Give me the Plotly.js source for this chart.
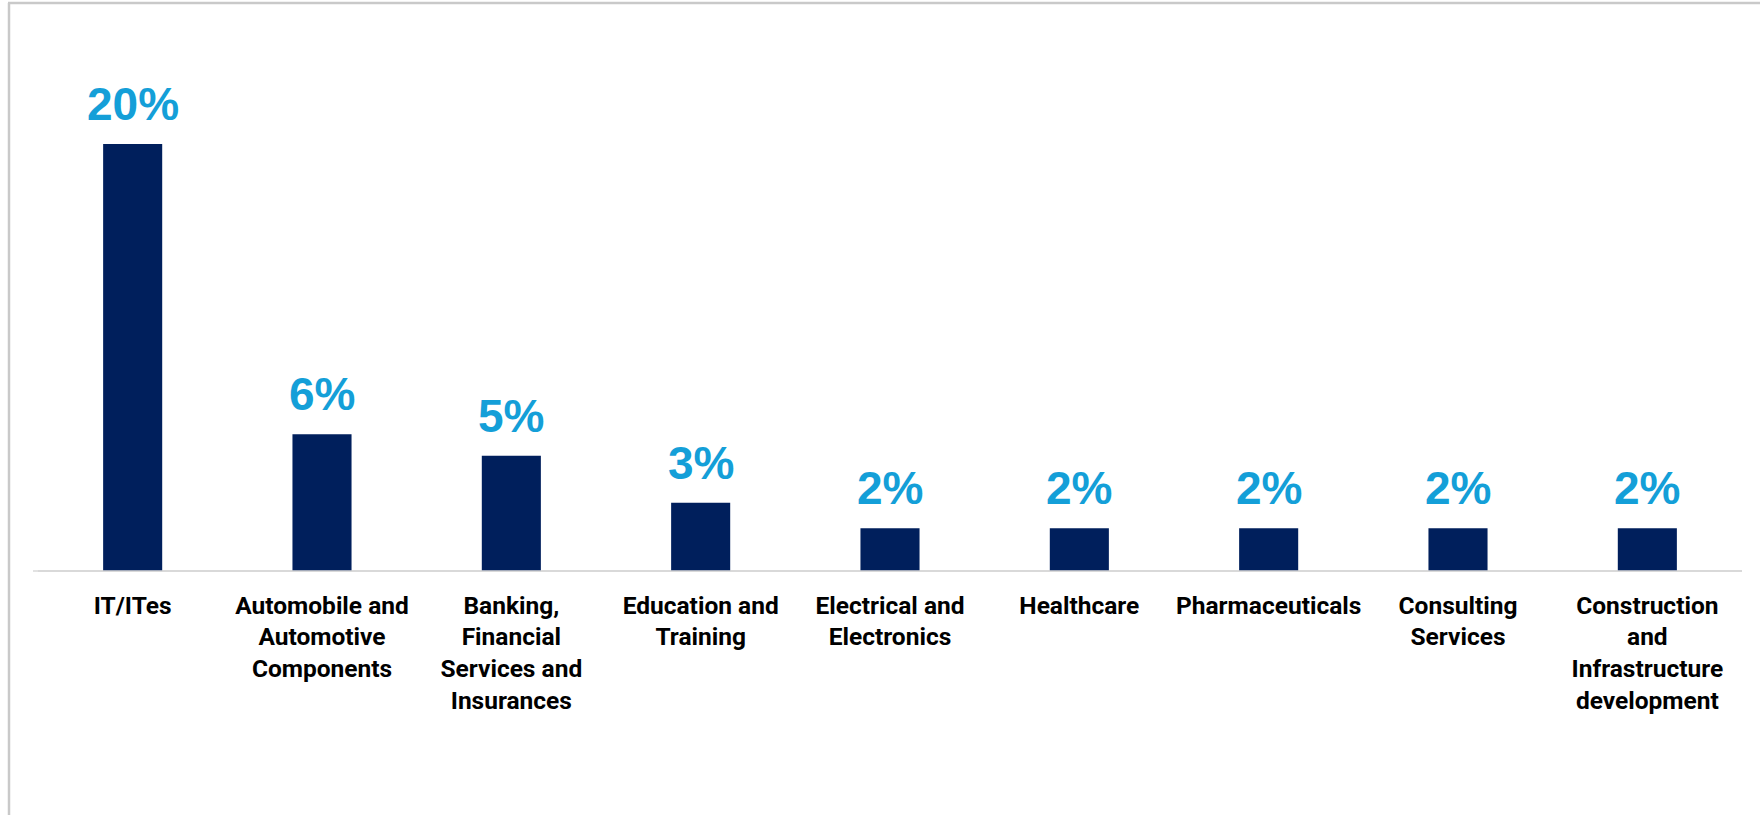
<!DOCTYPE html>
<html>
<head>
<meta charset="utf-8">
<script src="https://cdn.plot.ly/plotly-3.0.1.min.js"></script>
<style>html,body{margin:0;padding:0;background:#fff;}#chart{width:1760px;height:815px;}</style>
</head>
<body>
<div id="chart"></div>
<script>
const categories = [
  "IT/ITes",
  "Automobile and<br>Automotive<br>Components",
  "Banking,<br>Financial<br>Services and<br>Insurances",
  "Education and<br>Training",
  "Electrical and<br>Electronics",
  "Healthcare",
  "Pharmaceuticals",
  "Consulting<br>Services",
  "Construction<br>and<br>Infrastructure<br>development"
];
const shares = [20, 6.4, 5.4, 3.2, 2, 2, 2, 2, 2];
const shareLabels = ["20%", "6%", "5%", "3%", "2%", "2%", "2%", "2%", "2%"];

const W = 1760, H = 815;
const M = {l: 38, r: 18, t: 41, b: 244};
const pw = W - M.l - M.r, ph = H - M.t - M.b;
const frameColor = '#c9c9c9';

const trace = {
  type: 'bar',
  x: categories,
  y: shares,
  marker: {color: '#001F5C', line: {width: 0}},
  hoverinfo: 'none'
};

const annotations = categories.map((c, i) => ({
  x: c, y: shares[i], xref: 'x', yref: 'y',
  text: shareLabels[i], showarrow: false,
  xanchor: 'center', yanchor: 'bottom', yshift: 12,
  font: {family: 'Liberation Sans, Arial, sans-serif', size: 46, weight: 700, color: '#149FD8'}
}));

const px2x = p => (p - M.l) / pw;
const py2y = p => (H - M.b - p) / ph;

const layout = {
  width: W, height: H,
  margin: M,
  paper_bgcolor: '#ffffff', plot_bgcolor: '#ffffff',
  showlegend: false,
  bargap: 0.688,
  xaxis: {
    type: 'category',
    showgrid: false, zeroline: false,
    showline: false,
    ticks: '',
    ticklabelstandoff: 17,
    tickfont: {family: 'Roboto, sans-serif', size: 24.5, weight: 700, color: '#000000'},
    fixedrange: true
  },
  yaxis: {
    range: [0, 24.82],
    showgrid: false, zeroline: true, zerolinecolor: '#d9d9d9', zerolinewidth: 1.5,
    showticklabels: false, ticks: '', showline: false,
    fixedrange: true
  },
  annotations: annotations,
  shapes: [
    {type: 'line', xref: 'paper', yref: 'paper', x0: px2x(9), x1: px2x(9), y0: py2y(3), y1: py2y(H + 5), line: {color: frameColor, width: 2.5}},
    {type: 'line', xref: 'paper', yref: 'paper', x0: px2x(8), x1: px2x(W + 5), y0: py2y(3), y1: py2y(3), line: {color: frameColor, width: 2.5}},
    {type: 'line', xref: 'paper', yref: 'paper', x0: px2x(33), x1: px2x(1742), y0: 0, y1: 0, line: {color: '#d9d9d9', width: 1.5}}
  ]
};

Plotly.newPlot('chart', [trace], layout, {displayModeBar: false, staticPlot: true});
</script>
</body>
</html>
